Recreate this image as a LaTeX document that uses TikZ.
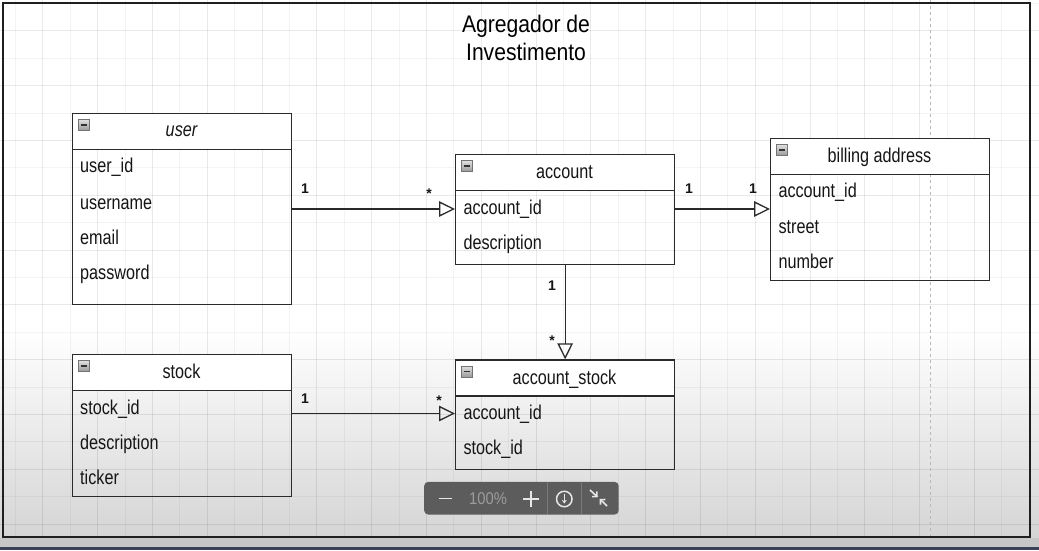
\documentclass[tikz,border=0pt]{standalone}
\usepackage{graphicx}
\usepackage{fontspec}
\setmainfont{Liberation Sans}
\usetikzlibrary{arrows.meta}
\definecolor{lc}{HTML}{2A2A2A}
\definecolor{txt}{HTML}{151515}
\definecolor{shadec}{HTML}{D3D3D3}
\definecolor{tbfill}{HTML}{5C5C5C}
\definecolor{tbsep}{HTML}{7A7A7A}
\definecolor{tbtxt}{HTML}{9C9C9C}
\definecolor{tbico}{HTML}{E6E6E6}
\definecolor{strip}{HTML}{3B4157}
\newcommand\attrfont{\fontsize{20}{24}\selectfont}
\newcommand\titlefont{\fontsize{24}{28}\selectfont}
\newcommand\cardfont{\fontsize{14}{16}\selectfont\bfseries}
\newcommand\sq[1]{\scalebox{0.81}[1]{#1}}
\newcommand\sqt[1]{\scalebox{0.88}[1]{#1}}
\begin{document}
\begin{tikzpicture}[x=1pt,y=-1pt,
  gmin/.style={draw=black, draw opacity=0.045, line width=0.8pt},
  gmaj/.style={draw=black, draw opacity=0.085, line width=0.9pt},
  hdr/.style={draw=lc, fill=white, line width=1.3pt, minimum width=219pt, minimum height=36pt, inner sep=0pt, anchor=north west},
  bdy/.style={draw=lc, line width=1.3pt, minimum width=219pt, inner sep=0pt, anchor=north west},
  attr/.style={anchor=base west, inner sep=0pt, font=\attrfont, text=txt},
  ttl/.style={anchor=base, inner sep=0pt, font=\attrfont, text=txt},
  icon/.style={draw=black!55, line width=0.6pt, minimum size=11pt, inner sep=0pt, top color=black!12, bottom color=black!40,
    path picture={\draw[black!80, line width=1.3pt] ([xshift=2.5pt]path picture bounding box.west) -- ([xshift=-2.5pt]path picture bounding box.east);}},
  assoc/.style={draw=lc, line width=1.3pt, -{Triangle[open, length=16pt, width=15.5pt, line width=1.3pt]}},
  card/.style={anchor=base, inner sep=0pt, font=\cardfont, text=txt},
  tbline/.style={draw=tbico, line width=1.7pt},
]
\useasboundingbox (0,0) rectangle (1039,550);
\fill[white] (0,0) rectangle (1039,550);
\shade[top color=white, bottom color=shadec] (0,330) rectangle (1039,547);
% grid
\foreach \i in {0,...,37}{
  \pgfmathsetmacro\xx{15.4+\i*27.4}
  \pgfmathtruncatemacro\mm{mod(\i,2)}
  \ifnum\mm=0 \draw[gmin] (\xx,0) -- (\xx,547); \else \draw[gmaj] (\xx,0) -- (\xx,547); \fi
}
\foreach \j in {0,...,19}{
  \pgfmathsetmacro\yy{3.4+\j*27.4}
  \pgfmathtruncatemacro\mm{mod(\j,2)}
  \ifnum\mm=0 \draw[gmin] (0,\yy) -- (1039,\yy); \else \draw[gmaj] (0,\yy) -- (1039,\yy); \fi
}
\draw[draw=black!28, line width=0.8pt, dash pattern=on 3pt off 3pt] (930,0) -- (930,537);
% frame
\draw[draw=black!88, line width=1.5pt] (3,3) rectangle (1030,537);
\fill[black!22] (0,538.2) rectangle (1039,547);
\fill[strip] (0,547) rectangle (1039,550);
% title
\node[anchor=base, inner sep=0pt, font=\titlefont, text=black] (title1) at (526,32) {\sqt{Agregador de}};
\node[anchor=base, inner sep=0pt, font=\titlefont, text=black] (title2) at (526,60) {\sqt{Investimento}};

% user
\node[hdr] (userh) at (72,113) {};
\node[bdy, minimum height=155pt] (userb) at (72,149) {};
\node[icon] (useri) at (83.5,125) {};
\node[ttl, font=\attrfont\itshape] (usert) at (181.5,136.7) {\sq{user}};
\node[attr] (user1) at (80,172.7) {\sq{user\_id}};
\node[attr] (user2) at (80,209.3) {\sq{username}};
\node[attr] (user3) at (80,244) {\sq{email}};
\node[attr] (user4) at (80,279.3) {\sq{password}};

% account
\node[hdr] (acch) at (455,154) {};
\node[bdy, minimum height=73.5pt] (accb) at (455,190) {};
\node[icon] (acci) at (466.7,166) {};
\node[ttl] (acct) at (564.5,178.3) {\sq{account}};
\node[attr] (acc1) at (463.3,214) {\sq{account\_id}};
\node[attr] (acc2) at (463.3,249.3) {\sq{description}};

% billing address
\node[hdr] (bilh) at (770,137.5) {};
\node[bdy, minimum height=106.5pt] (bilb) at (770,173.5) {};
\node[icon] (bili) at (782,150) {};
\node[ttl] (bilt) at (879.5,162.3) {\sq{billing address}};
\node[attr] (bil1) at (778.3,197.7) {\sq{account\_id}};
\node[attr] (bil2) at (778.3,233.3) {\sq{street}};
\node[attr] (bil3) at (778.3,268.3) {\sq{number}};

% stock
\node[hdr] (stoh) at (72,354) {};
\node[bdy, minimum height=106pt] (stob) at (72,390) {};
\node[icon] (stoi) at (83.5,366) {};
\node[ttl] (stot) at (181.5,378.3) {\sq{stock}};
\node[attr] (sto1) at (80,414) {\sq{stock\_id}};
\node[attr] (sto2) at (80,449.3) {\sq{description}};
\node[attr] (sto3) at (80,484) {\sq{ticker}};

% account_stock
\node[hdr] (ash) at (455,359.3) {};
\node[bdy, minimum height=73.2pt] (asb) at (455,395.3) {};
\node[icon] (asi) at (466.7,371.5) {};
\node[ttl] (ast) at (564.5,384) {\sq{account\_stock}};
\node[attr] (as1) at (463.3,419) {\sq{account\_id}};
\node[attr] (as2) at (463.3,454.3) {\sq{stock\_id}};

% connectors
\coordinate (ya) at (0,209);
\coordinate (ys) at (0,413.5);
\draw[assoc] (userb.east |- ya) -- (accb.west |- ya);
\draw[assoc] (accb.east |- ya) -- (bilb.west |- ya);
\draw[assoc] (accb.south) -- (ash.north);
\draw[assoc] (stob.east |- ys) -- (asb.west |- ys);

% cardinalities
\node[card] (c1) at (305,193.5) {1};
\node[card] (c2) at (429,198) {*};
\node[card] (c3) at (689,193.5) {1};
\node[card] (c4) at (753,193.5) {1};
\node[card] (c5) at (552,290) {1};
\node[card] (c6) at (552,345) {*};
\node[card] (c7) at (305,403) {1};
\node[card] (c8) at (439,405) {*};

% toolbar
\node[draw=none, fill=tbfill, rounded corners=4pt, minimum width=194.5pt, minimum height=32.6pt, inner sep=0pt, anchor=north west] (tb) at (424,481.7) {};
\draw[tbsep, line width=0.8pt] (547.7,481.7) -- (547.7,514.3);
\draw[tbsep, line width=0.8pt] (581,481.7) -- (581,514.3);
\draw[tbline] (438.5,498.5) -- (452,498.5);
\node[anchor=center, inner sep=0pt, font=\fontsize{17}{20}\selectfont, text=tbtxt] (zoomtxt) at (488,498.8) {\scalebox{0.87}[1]{100\%}};
\draw[tbline] (523,498.7) -- (539,498.7);
\draw[tbline] (531,490.7) -- (531,506.7);
\node[circle, draw=tbico, line width=1.5pt, minimum size=15.5pt, inner sep=0pt] (dl) at (564.3,499) {};
\draw[tbico, line width=1.4pt, -{Stealth[length=3.5pt, width=5pt]}] (564.3,493.5) -- (564.3,503.5);
\draw[tbico, line width=1.6pt, -{Straight Barb[length=3.5pt, width=7pt]}] (590,490) -- (597.8,497.2);
\draw[tbico, line width=1.6pt, -{Straight Barb[length=3.5pt, width=7pt]}] (607,506) -- (599.6,498.8);
\end{tikzpicture}
\end{document}
